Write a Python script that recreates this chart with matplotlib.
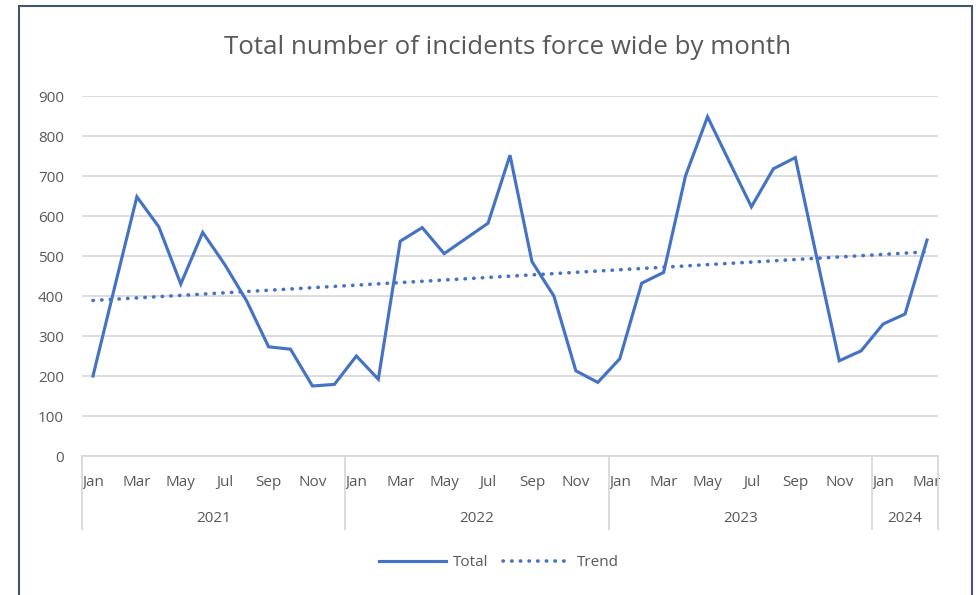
import numpy as np
import matplotlib.pyplot as plt
from matplotlib.patches import Rectangle

# Données (jan 2021 -> mars 2024)
month_names = ['Jan', 'Feb', 'Mar', 'Apr', 'May', 'Jun',
               'Jul', 'Aug', 'Sep', 'Oct', 'Nov', 'Dec']
years = ['2021', '2022', '2023', '2024']
months_per_year = [12, 12, 12, 3]

total_2021 = [200, 425, 648, 573, 430, 559, 479, 388, 273, 267, 175, 179]
total_2022 = [250, 192, 537, 571, 506, 544, 582, 752, 486, 400, 213, 184]
total_2023 = [243, 432, 459, 701, 848, 735, 623, 718, 746, 490, 238, 263]
total_2024 = [330, 355, 540]

total = np.array(total_2021 + total_2022 + total_2023 + total_2024, dtype=float)
n = len(total)
x = np.arange(n)

# Tendance linéaire (comme la courbe de tendance Excel)
coef = np.polyfit(x, total, 1)
trend = np.polyval(coef, x)

blue = '#4472C4'
grey_text = '#595959'
grid_col = '#D9D9D9'
font = ['Open Sans', 'DejaVu Sans']

plt.rcParams['font.family'] = font

fig = plt.figure(figsize=(9.79, 5.95), dpi=100)
ax = fig.add_axes([82 / 979, 1 - 456 / 595, (938 - 82) / 979, (456 - 96) / 595])

ax.plot(x, total, color=blue, lw=2.25, label='Total', solid_joinstyle='miter')
ax.plot(x, trend, color=blue, lw=2.6, linestyle=(0, (0.1, 2.3)),
        dash_capstyle='round', label='Trend')

ax.set_xlim(-0.5, n - 0.5)
ax.set_ylim(0, 900)
ax.set_yticks(np.arange(0, 901, 100))
ax.grid(axis='y', color=grid_col, lw=1.3)
ax.set_axisbelow(True)

for side in ['top', 'right', 'left']:
    ax.spines[side].set_visible(False)
ax.spines['bottom'].set_color(grid_col)
ax.spines['bottom'].set_linewidth(1.3)

# étiquettes des mois (un mois sur deux)
labels = []
for y, m in zip(years, months_per_year):
    labels += month_names[:m]
ax.set_xticks(x[::2])
ax.set_xticklabels(labels[::2])
ax.tick_params(axis='x', length=0, pad=14, labelsize=11, labelcolor=grey_text)
ax.tick_params(axis='y', length=0, pad=13, labelsize=11, labelcolor=grey_text)

# séparateurs des années et libellés
trans = ax.get_xaxis_transform()
bounds = np.concatenate([[0], np.cumsum(months_per_year)]) - 0.5
for b in bounds:
    ax.plot([b, b], [0, -73 / 360], transform=trans, color=grid_col,
            lw=1.3, clip_on=False)
for i, y in enumerate(years):
    ax.text((bounds[i] + bounds[i + 1]) / 2, -63 / 360, y, transform=trans,
            ha='center', va='center', fontsize=11, color=grey_text)

fig.text(508 / 979, 1 - 47 / 595, 'Total number of incidents force wide by month',
         ha='center', va='center', fontsize=18.6, color=grey_text)

fig.legend(loc='center', bbox_to_anchor=(499 / 979, 1 - 563 / 595), ncol=2,
           frameon=False, fontsize=11, handlelength=4.4, columnspacing=1.0,
           handletextpad=0.4, labelcolor=grey_text)

# cadre du graphique
fig.patches.append(Rectangle((19 / 979, -0.05), (972 - 19) / 979, 1 - 6 / 595 + 0.05,
                             transform=fig.transFigure, fill=False,
                             edgecolor='#44546A', lw=1.5))

fig.savefig('out.png', dpi=100)
